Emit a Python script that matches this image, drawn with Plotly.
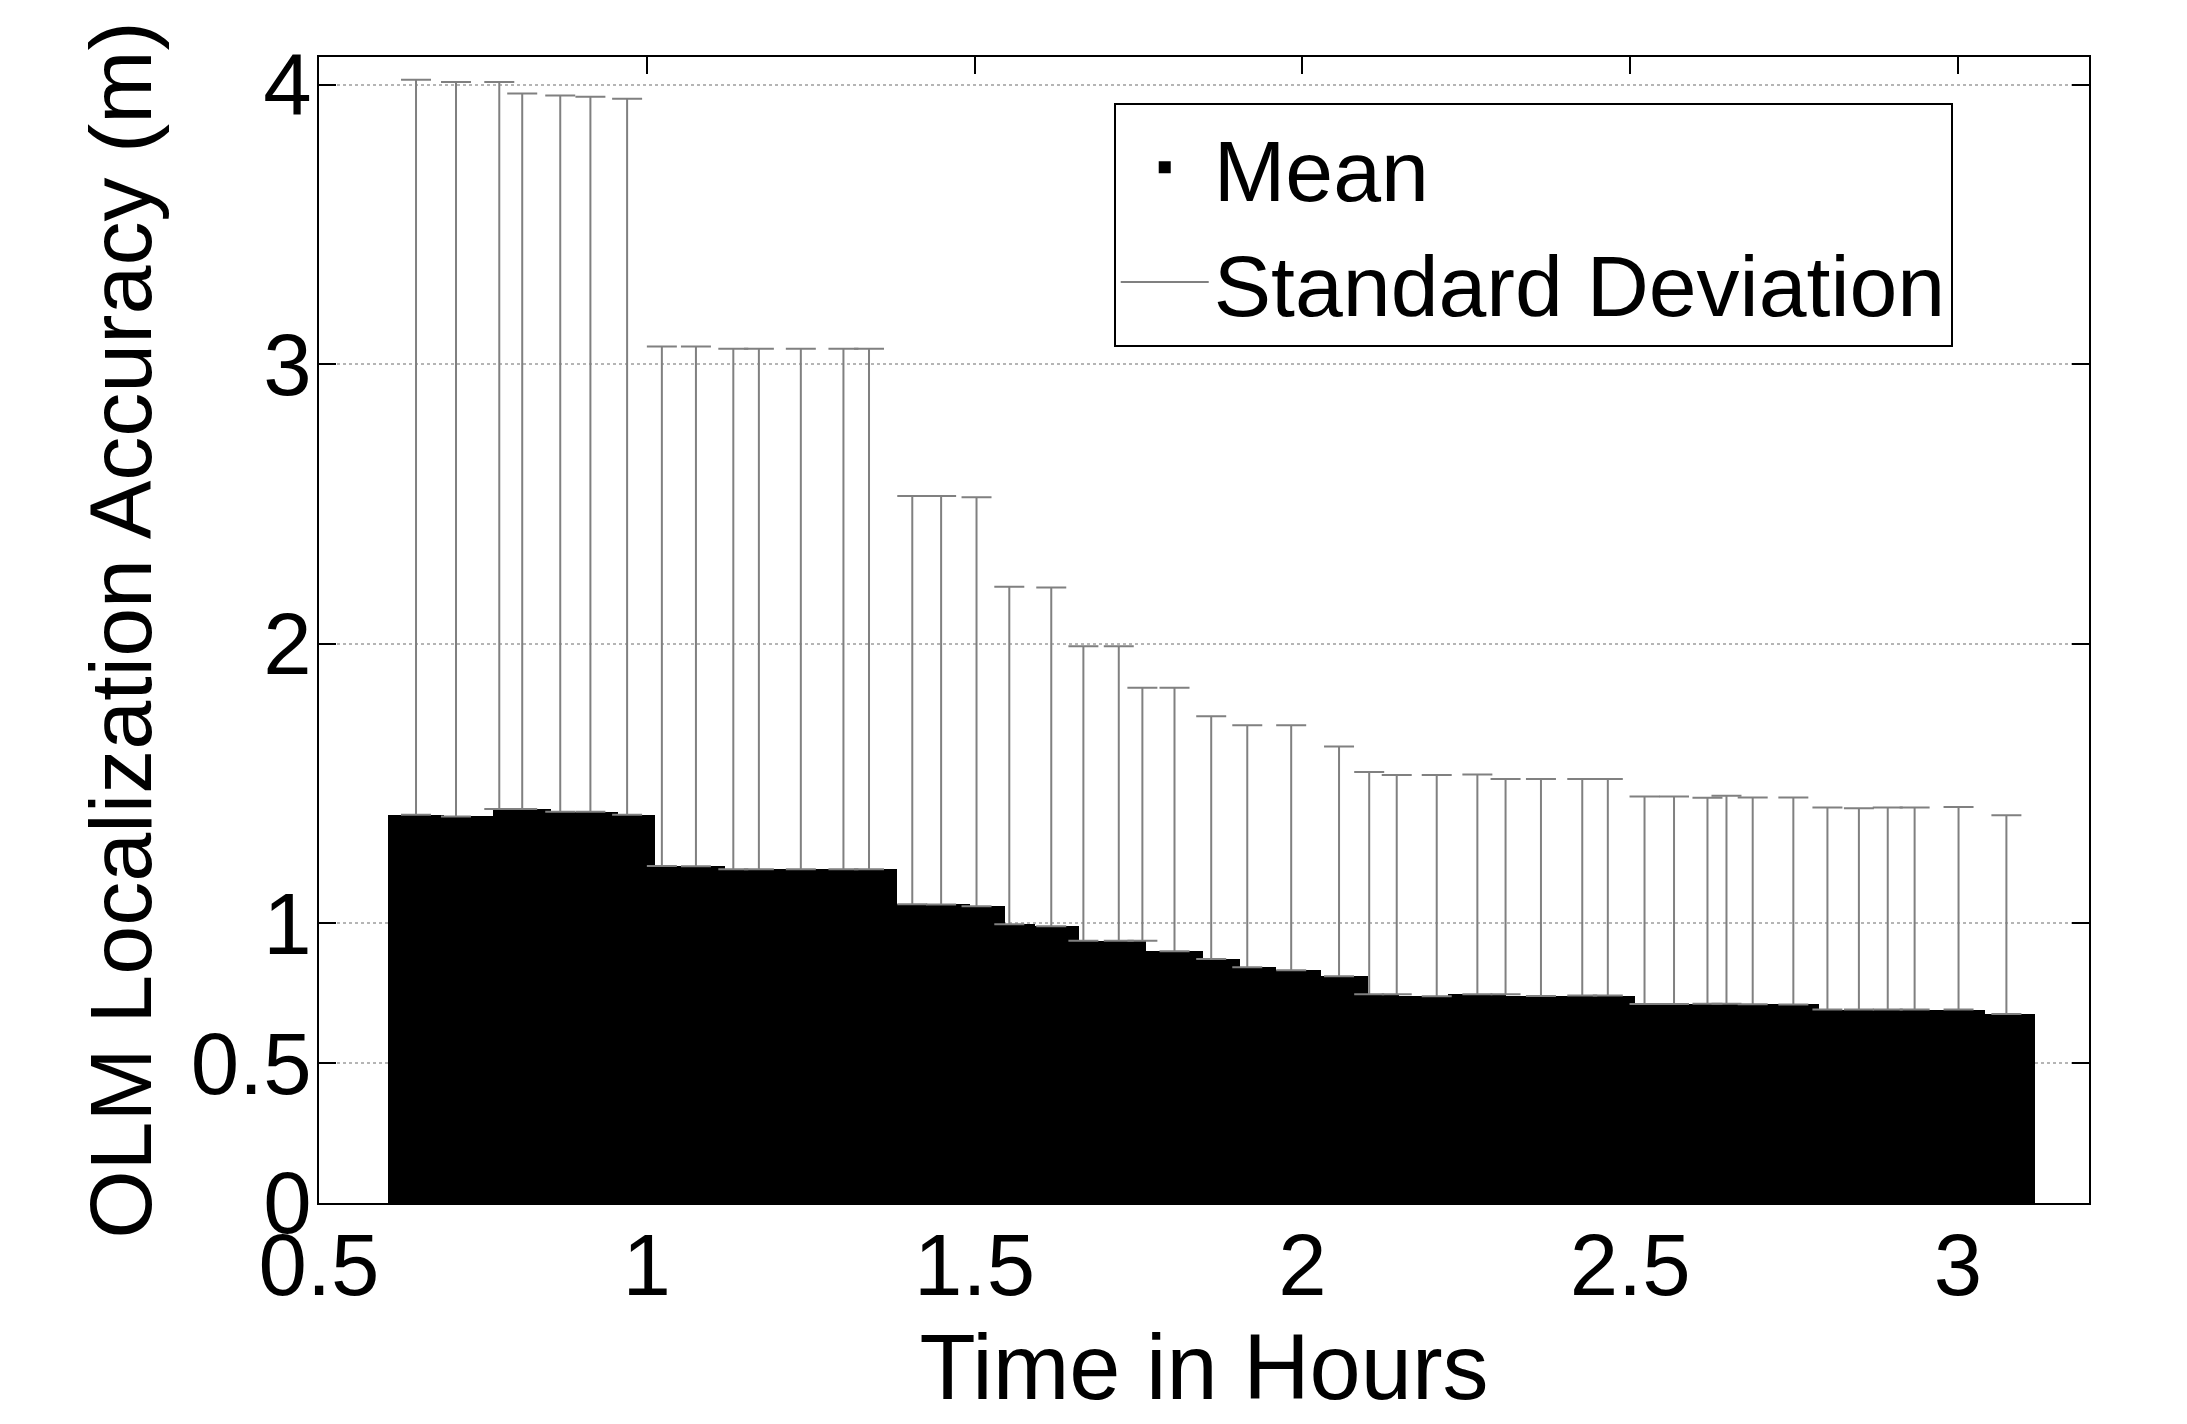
import numpy as np
import plotly.graph_objects as go

# ---- Data ----
# Mean accuracy shown as contiguous bars: bin edges (hours) and bar heights (m)
bar_edges = [0.605, 0.690, 0.766, 0.854, 0.956, 1.012, 1.119, 1.382, 1.493, 1.546,
             1.592, 1.659, 1.762, 1.848, 1.905, 1.960, 2.028, 2.100, 2.147, 2.222,
             2.311, 2.508, 2.788, 3.042, 3.117]
bar_means = [1.389, 1.383, 1.410, 1.400, 1.389, 1.206, 1.194, 1.069, 1.062, 0.997,
             0.990, 0.938, 0.901, 0.873, 0.843, 0.833, 0.811, 0.747, 0.740, 0.747,
             0.741, 0.712, 0.692, 0.676]

# Standard deviation error bars: time (hours), mean at that time, std (m)
sd_times = [0.648, 0.709, 0.775, 0.810, 0.868, 0.914, 0.970, 1.023, 1.075, 1.132,
            1.171, 1.235, 1.300, 1.339, 1.405, 1.449, 1.503, 1.553, 1.617, 1.666,
            1.720, 1.756, 1.805, 1.861, 1.916, 1.983, 2.056, 2.102, 2.144, 2.205,
            2.267, 2.310, 2.364, 2.427, 2.466, 2.522, 2.567, 2.618, 2.647, 2.687,
            2.749, 2.801, 2.849, 2.893, 2.934, 3.001, 3.074]
sd_means = [1.389, 1.383, 1.410, 1.410, 1.400, 1.400, 1.389, 1.206, 1.205, 1.194,
            1.194, 1.194, 1.194, 1.194, 1.069, 1.068, 1.062, 0.997, 0.990, 0.938,
            0.938, 0.938, 0.901, 0.873, 0.843, 0.833, 0.811, 0.747, 0.747, 0.740,
            0.747, 0.747, 0.741, 0.742, 0.742, 0.712, 0.712, 0.713, 0.713, 0.711,
            0.710, 0.692, 0.692, 0.692, 0.692, 0.692, 0.676]
sd_values = [2.630, 2.628, 2.601, 2.559, 2.562, 2.558, 2.562, 1.858, 1.859, 1.862,
             1.862, 1.862, 1.862, 1.862, 1.460, 1.461, 1.463, 1.208, 1.212, 1.054,
             1.054, 0.905, 0.942, 0.868, 0.866, 0.876, 0.822, 0.795, 0.784, 0.791,
             0.786, 0.770, 0.776, 0.775, 0.775, 0.742, 0.742, 0.737, 0.744, 0.740,
             0.741, 0.723, 0.720, 0.723, 0.723, 0.725, 0.711]

x_ticks = [0.5, 1, 1.5, 2, 2.5, 3]
x_ticklabels = ["0.5", "1", "1.5", "2", "2.5", "3"]
y_ticks = [0, 0.5, 1, 2, 3, 4]
y_ticklabels = ["0", "0.5", "1", "2", "3", "4"]

edges = np.array(bar_edges)
centers = (edges[:-1] + edges[1:]) / 2
widths = np.diff(edges)

FONT = "Liberation Sans, Arial, Helvetica, sans-serif"
SD_COLOR = "#808080"

fig = go.Figure()
fig.add_trace(go.Bar(
    x=centers, y=bar_means, width=widths, name="Mean",
    marker=dict(color="black", line=dict(width=0)),
))
fig.add_trace(go.Scatter(
    x=sd_times, y=sd_means, mode="markers", showlegend=False,
    marker=dict(size=1, color="rgba(0,0,0,0)"),
    error_y=dict(type="data", symmetric=False, array=sd_values,
                 arrayminus=[0] * len(sd_values),
                 color=SD_COLOR, thickness=2, width=15),
))
fig.add_trace(go.Scatter(
    x=[None], y=[None], mode="lines", name="Standard Deviation",
    line=dict(color=SD_COLOR, width=2),
))

fig.update_layout(
    width=2187, height=1424,
    margin=dict(l=311, r=106, t=49, b=229),
    paper_bgcolor="white", plot_bgcolor="white",
    font=dict(family=FONT, color="black", size=86),
    bargap=0,
    showlegend=True,
    legend=dict(
        x=0.449, y=0.960, xanchor="left", yanchor="top",
        bgcolor="white", bordercolor="black", borderwidth=2,
        font=dict(family=FONT, size=86, color="black"),
        itemwidth=88, tracegroupgap=0,
    ),
)
fig.update_xaxes(
    range=[0.5, 3.2], tickmode="array", tickvals=x_ticks, ticktext=x_ticklabels,
    showline=True, linecolor="black", linewidth=2, mirror="allticks",
    ticks="inside", ticklen=17, tickwidth=2, tickcolor="black",
    showgrid=False, zeroline=False,
    tickfont=dict(size=87), ticklabelstandoff=-14,
    title=dict(text="Time in Hours", font=dict(size=92), standoff=22),
)
fig.update_yaxes(
    range=[0, 4.1], tickmode="array", tickvals=y_ticks, ticktext=y_ticklabels,
    showline=True, linecolor="black", linewidth=2, mirror="allticks",
    ticks="inside", ticklen=17, tickwidth=2, tickcolor="black",
    showgrid=True, gridcolor="#b5b5b5", gridwidth=1.5, griddash="dot",
    zeroline=False,
    tickfont=dict(size=87), ticklabelstandoff=-12,
    title=dict(text="OLM Localization Accuracy (m)", font=dict(size=88), standoff=10),
)

fig.write_html("out.html")
